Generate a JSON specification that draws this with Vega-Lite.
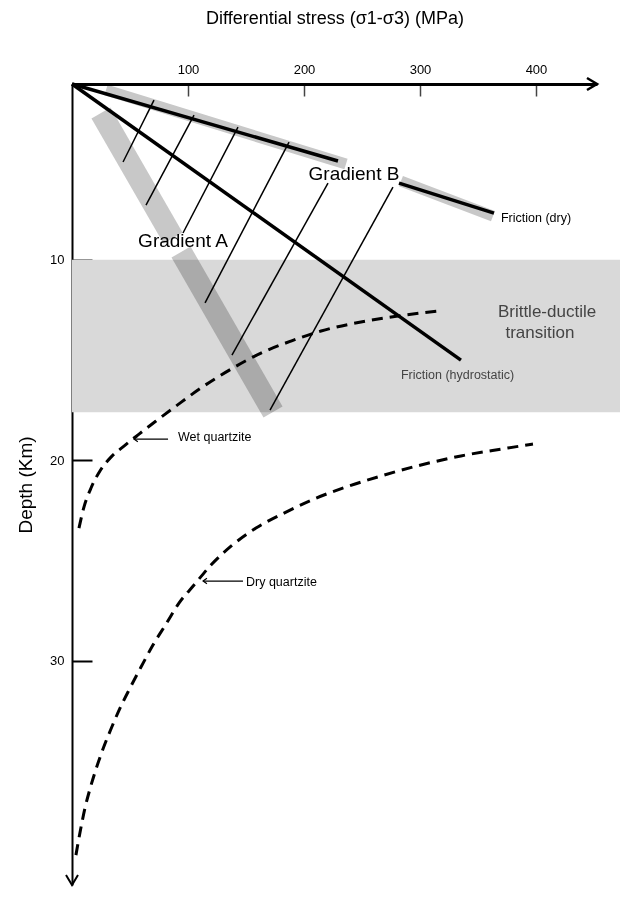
{
  "$schema": "https://vega.github.io/schema/vega-lite/v6.json",
  "width": 525,
  "height": 801,
  "autosize": {"type": "none"},
  "padding": {"left": 72, "top": 84, "right": 23, "bottom": 30},
  "background": "white",
  "config": {"view": {"stroke": null}, "font": "Liberation Sans"},
  "datasets": {
    "trans": [{"v": 0, "v2": 473, "d": 10, "d2": 17.6}],
    "bandA": [
      {"seg": 1, "v": 25, "d": 2.68}, {"seg": 1, "v": 87.1, "d": 8.91},
      {"seg": 2, "v": 94, "d": 9.61}, {"seg": 2, "v": 173.3, "d": 17.59}
    ],
    "bandB": [
      {"seg": 1, "v": 29.3, "d": 1.53}, {"seg": 1, "v": 236.2, "d": 5.22},
      {"seg": 2, "v": 283.6, "d": 6.07}, {"seg": 2, "v": 362.9, "d": 7.82}
    ],
    "friction": [
      {"seg": "dry1", "v": 0, "d": 1.23}, {"seg": "dry1", "v": 229.3, "d": 5.07},
      {"seg": "dry2", "v": 281.9, "d": 6.17}, {"seg": "dry2", "v": 363.8, "d": 7.67},
      {"seg": "hydro", "v": 0, "d": 1.23}, {"seg": "hydro", "v": 335.3, "d": 15.0}
    ],
    "gradLines": [
      {"v": 44.0, "d": 5.12, "v2": 70.7, "d2": 2.03},
      {"v": 63.8, "d": 7.27, "v2": 105.2, "d2": 2.78},
      {"v": 95.7, "d": 8.66, "v2": 143.1, "d2": 3.38},
      {"v": 114.7, "d": 12.15, "v2": 187.1, "d2": 4.13},
      {"v": 137.9, "d": 14.75, "v2": 220.7, "d2": 6.17},
      {"v": 170.7, "d": 17.49, "v2": 276.7, "d2": 6.37}
    ],
    "quartz": [
      {"rock": "wet", "v": 6.0, "d": 23.38}, {"rock": "wet", "v": 10.3, "d": 22.33},
      {"rock": "wet", "v": 16.4, "d": 21.38}, {"rock": "wet", "v": 24.1, "d": 20.53},
      {"rock": "wet", "v": 33.6, "d": 19.84}, {"rock": "wet", "v": 44.8, "d": 19.29},
      {"rock": "wet", "v": 57.8, "d": 18.69}, {"rock": "wet", "v": 72.4, "d": 18.04},
      {"rock": "wet", "v": 89.7, "d": 17.29}, {"rock": "wet", "v": 111.2, "d": 16.39},
      {"rock": "wet", "v": 137.1, "d": 15.45}, {"rock": "wet", "v": 162.9, "d": 14.65},
      {"rock": "wet", "v": 188.8, "d": 14.05}, {"rock": "wet", "v": 214.7, "d": 13.55},
      {"rock": "wet", "v": 249.1, "d": 13.10}, {"rock": "wet", "v": 281.0, "d": 12.80},
      {"rock": "wet", "v": 316.4, "d": 12.55},
      {"rock": "dry", "v": 3.4, "d": 39.69}, {"rock": "dry", "v": 5.2, "d": 39.09},
      {"rock": "dry", "v": 7.8, "d": 38.29}, {"rock": "dry", "v": 11.2, "d": 37.34},
      {"rock": "dry", "v": 15.5, "d": 36.39}, {"rock": "dry", "v": 20.7, "d": 35.40},
      {"rock": "dry", "v": 26.7, "d": 34.40}, {"rock": "dry", "v": 33.6, "d": 33.40},
      {"rock": "dry", "v": 41.4, "d": 32.36}, {"rock": "dry", "v": 50.0, "d": 31.36},
      {"rock": "dry", "v": 59.5, "d": 30.31}, {"rock": "dry", "v": 69.8, "d": 29.21},
      {"rock": "dry", "v": 81.0, "d": 28.17}, {"rock": "dry", "v": 92.2, "d": 27.12},
      {"rock": "dry", "v": 105.2, "d": 26.22}, {"rock": "dry", "v": 119.8, "d": 25.22},
      {"rock": "dry", "v": 137.1, "d": 24.28}, {"rock": "dry", "v": 158.6, "d": 23.38},
      {"rock": "dry", "v": 182.8, "d": 22.63}, {"rock": "dry", "v": 208.6, "d": 21.93},
      {"rock": "dry", "v": 236.2, "d": 21.33}, {"rock": "dry", "v": 266.4, "d": 20.78},
      {"rock": "dry", "v": 300.9, "d": 20.23}, {"rock": "dry", "v": 335.3, "d": 19.78},
      {"rock": "dry", "v": 369.8, "d": 19.44}, {"rock": "dry", "v": 397.4, "d": 19.19}
    ],
    "pointers": [
      {"v": 82.8, "d": 18.94, "v2": 53.4, "d2": 18.94},
      {"v": 147.4, "d": 26.02, "v2": 113.0, "d2": 26.02}
    ],
    "pointerHeads": [{"v": 53.4, "d": 18.94}, {"v": 113.0, "d": 26.02}],
    "labelsBig": [
      {"label": "Gradient A", "v": 95.7, "d": 9.06},
      {"label": "Gradient B", "v": 243.1, "d": 5.72}
    ],
    "labelsSmall": [
      {"label": "Friction (dry)", "v": 369.8, "d": 7.92},
      {"label": "Wet quartzite", "v": 91.4, "d": 18.84},
      {"label": "Dry quartzite", "v": 150.0, "d": 26.07}
    ],
    "labelsHydro": [{"label": "Friction (hydrostatic)", "v": 283.6, "d": 15.74}],
    "labelsBD": [
      {"label": "Brittle-ductile", "v": 409.5, "d": 12.58},
      {"label": "transition", "v": 403.4, "d": 13.66}
    ],
    "arrowX": [{"v": 452.6, "d": 1.23}],
    "arrowY": [{"v": 0, "d": 41.18}]
  },
  "encoding": {
    "x": {
      "field": "v", "type": "quantitative",
      "scale": {"domain": [0, 452.6], "nice": false, "zero": false},
      "axis": {
        "orient": "top", "values": [100, 200, 300, 400], "grid": false,
        "domainColor": "black", "domainWidth": 3,
        "tickColor": "#444", "tickWidth": 1.5, "tickSize": -12,
        "labelFont": "Liberation Sans", "labelFontSize": 13, "labelColor": "black", "labelPadding": 20,
        "title": "Differential stress (σ1-σ3) (MPa)", "titleFont": "Liberation Sans",
        "titleFontSize": 18, "titleFontWeight": "normal", "titleColor": "black", "titlePadding": 36
      }
    },
    "y": {
      "field": "d", "type": "quantitative",
      "scale": {"domain": [1.23, 41.18], "nice": false, "zero": false, "reverse": true},
      "axis": {
        "orient": "left", "values": [10, 20, 30], "grid": false,
        "domainColor": "black", "domainWidth": 2,
        "tickColor": "black", "tickWidth": 2, "tickSize": -20,
        "labelFont": "Liberation Sans", "labelFontSize": 13, "labelColor": "black", "labelPadding": 28,
        "title": "Depth (Km)", "titleFont": "Liberation Sans",
        "titleFontSize": 19, "titleFontWeight": "normal", "titleColor": "black", "titlePadding": 14
      }
    }
  },
  "layer": [
    {
      "data": {"name": "trans"},
      "mark": {"type": "rect", "color": "#d9d9d9"},
      "encoding": {"x2": {"field": "v2"}, "y2": {"field": "d2"}}
    },
    {
      "data": {"name": "bandA"},
      "mark": {"type": "line", "color": "#c8c8c8", "strokeWidth": 22, "strokeCap": "butt", "blend": "multiply"},
      "encoding": {"detail": {"field": "seg", "type": "nominal"}}
    },
    {
      "data": {"name": "bandB"},
      "mark": {"type": "line", "color": "#c8c8c8", "strokeWidth": 11, "strokeCap": "butt", "blend": "multiply"},
      "encoding": {"detail": {"field": "seg", "type": "nominal"}}
    },
    {
      "data": {"name": "gradLines"},
      "mark": {"type": "rule", "color": "black", "strokeWidth": 1.5},
      "encoding": {"x2": {"field": "v2"}, "y2": {"field": "d2"}}
    },
    {
      "data": {"name": "friction"},
      "mark": {"type": "line", "color": "black", "strokeWidth": 3.5},
      "encoding": {"detail": {"field": "seg", "type": "nominal"}}
    },
    {
      "data": {"name": "quartz"},
      "mark": {"type": "line", "color": "black", "strokeWidth": 3, "strokeDash": [11, 7], "interpolate": "monotone"},
      "encoding": {"detail": {"field": "rock", "type": "nominal"}}
    },
    {
      "data": {"name": "pointers"},
      "mark": {"type": "rule", "color": "black", "strokeWidth": 1.2},
      "encoding": {"x2": {"field": "v2"}, "y2": {"field": "d2"}}
    },
    {
      "data": {"name": "pointerHeads"},
      "mark": {"type": "point", "shape": "M1,-0.7L0,0L1,0.7", "size": 60, "color": "black", "strokeWidth": 1.2, "filled": false, "opacity": 1}
    },
    {
      "data": {"name": "labelsBig"},
      "mark": {"type": "text", "fontSize": 19, "align": "center", "baseline": "middle", "color": "black", "font": "Liberation Sans"},
      "encoding": {"text": {"field": "label"}}
    },
    {
      "data": {"name": "labelsSmall"},
      "mark": {"type": "text", "fontSize": 12.5, "align": "left", "baseline": "middle", "color": "black", "font": "Liberation Sans"},
      "encoding": {"text": {"field": "label"}}
    },
    {
      "data": {"name": "labelsHydro"},
      "mark": {"type": "text", "fontSize": 12.5, "align": "left", "baseline": "middle", "color": "#444", "font": "Liberation Sans"},
      "encoding": {"text": {"field": "label"}}
    },
    {
      "data": {"name": "labelsBD"},
      "mark": {"type": "text", "fontSize": 17, "align": "center", "baseline": "middle", "color": "#444", "font": "Liberation Sans"},
      "encoding": {"text": {"field": "label"}}
    },
    {
      "data": {"name": "arrowX"},
      "mark": {"type": "point", "shape": "M-1,-0.6L0,0L-1,0.6", "size": 400, "color": "black", "strokeWidth": 2.5, "filled": false, "opacity": 1}
    },
    {
      "data": {"name": "arrowY"},
      "mark": {"type": "point", "shape": "M-0.6,-1L0,0L0.6,-1", "size": 400, "color": "black", "strokeWidth": 2, "filled": false, "opacity": 1}
    }
  ]
}
